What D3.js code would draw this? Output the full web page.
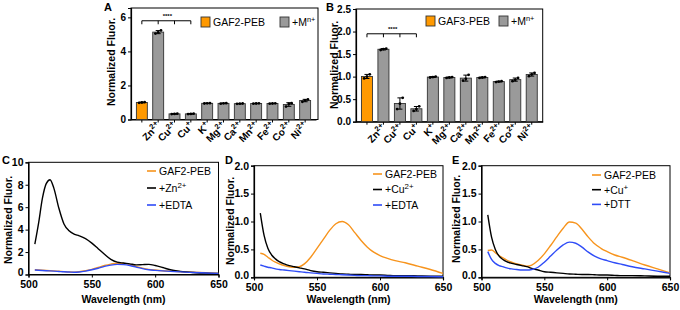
<!DOCTYPE html>
<html>
<head>
<meta charset="utf-8">
<script src="https://cdn.jsdelivr.net/npm/d3@7"></script>
<style>
  body { margin: 0; background: #fff; }
  svg { font-family: "Liberation Sans", Arial, sans-serif; }
  .tick text { font-weight: bold; }
</style>
</head>
<body>
<div id="chart"></div>
<script>
// ---- data ----
const metalNames = ['Zn', 'Cu', 'Cu', 'K', 'Mg', 'Ca', 'Mn', 'Fe', 'Co', 'Ni'];
const metalCharges = ['2+', '2+', '+', '+', '2+', '2+', '2+', '2+', '2+', '2+'];

// replicates per bar: control first, then metals in order above
const repsA = [
  [0.98, 1.0, 1.02], [5.05, 5.12, 5.23], [0.32, 0.33, 0.34], [0.32, 0.33, 0.34],
  [0.94, 0.95, 0.96], [0.93, 0.95, 0.96], [0.92, 0.93, 0.94], [0.93, 0.94, 0.95],
  [0.93, 0.94, 0.95], [0.76, 0.92, 0.96], [1.04, 1.12, 1.18]
];
const repsB = [
  [0.96, 1.0, 1.05], [1.59, 1.61, 1.62], [0.28, 0.40, 0.53], [0.24, 0.28, 0.34],
  [0.98, 0.99, 1.0], [0.97, 0.98, 0.99], [0.91, 0.95, 1.04], [0.97, 0.98, 0.99],
  [0.88, 0.89, 0.90], [0.90, 0.93, 0.97], [1.01, 1.05, 1.08]
];

const wl = [505, 508, 511, 514, 517, 520, 524, 528, 532, 536, 540, 545, 550, 555, 560,
            565, 570, 575, 580, 585, 590, 595, 600, 606, 612, 620, 630, 640, 650];

const cPeb  = [0.42, 0.40, 0.38, 0.36, 0.34, 0.32, 0.29, 0.26, 0.23, 0.21, 0.24, 0.33, 0.46, 0.62, 0.8,
               0.93, 1.0, 0.98, 0.88, 0.72, 0.57, 0.46, 0.4, 0.34, 0.3, 0.25, 0.2, 0.15, 0.1];
const cZn   = [2.7, 4.6, 6.8, 8.1, 8.45, 7.7, 5.9, 4.5, 3.9, 3.6, 3.45, 3.2, 2.8, 2.3, 1.8,
               1.35, 1.1, 1.02, 0.95, 0.86, 0.88, 0.9, 0.8, 0.62, 0.42, 0.28, 0.18, 0.12, 0.1];
const cEdta = [0.40, 0.38, 0.36, 0.34, 0.32, 0.30, 0.27, 0.24, 0.22, 0.2, 0.22, 0.3, 0.42, 0.56, 0.72,
               0.84, 0.9, 0.88, 0.8, 0.66, 0.52, 0.42, 0.37, 0.32, 0.28, 0.23, 0.18, 0.14, 0.1];

const dPeb  = [0.43, 0.41, 0.36, 0.31, 0.27, 0.24, 0.21, 0.19, 0.18, 0.19, 0.24, 0.36, 0.52, 0.68, 0.84,
               0.96, 1.0, 0.94, 0.8, 0.66, 0.54, 0.45, 0.39, 0.34, 0.3, 0.26, 0.2, 0.14, 0.07];
const dCu2  = [1.15, 0.75, 0.52, 0.4, 0.33, 0.28, 0.24, 0.21, 0.19, 0.17, 0.15, 0.12, 0.1, 0.09, 0.08,
               0.07, 0.06, 0.055, 0.05, 0.05, 0.045, 0.04, 0.04, 0.035, 0.03, 0.03, 0.025, 0.02, 0.02];
const dEdta = [0.22, 0.2, 0.18, 0.17, 0.15, 0.14, 0.13, 0.12, 0.11, 0.1, 0.09, 0.08, 0.07, 0.06, 0.055,
               0.05, 0.045, 0.04, 0.035, 0.03, 0.03, 0.025, 0.025, 0.02, 0.02, 0.02, 0.015, 0.015, 0.01];

const ePeb  = [0.48, 0.49, 0.44, 0.39, 0.35, 0.31, 0.27, 0.24, 0.22, 0.2, 0.22, 0.3, 0.42, 0.57, 0.73,
               0.88, 0.99, 0.97, 0.86, 0.72, 0.6, 0.52, 0.46, 0.4, 0.36, 0.3, 0.22, 0.15, 0.08];
const eCu1  = [1.12, 0.72, 0.5, 0.38, 0.32, 0.28, 0.25, 0.23, 0.21, 0.19, 0.16, 0.13, 0.1, 0.09, 0.08,
               0.07, 0.06, 0.055, 0.05, 0.05, 0.045, 0.04, 0.04, 0.035, 0.03, 0.03, 0.025, 0.02, 0.02];
const eDtt  = [0.46, 0.32, 0.25, 0.21, 0.19, 0.17, 0.15, 0.14, 0.13, 0.13, 0.14, 0.18, 0.27, 0.38, 0.49,
               0.58, 0.63, 0.61, 0.54, 0.45, 0.38, 0.33, 0.3, 0.26, 0.23, 0.19, 0.15, 0.11, 0.07];

const ORANGE = '#ff9900', LINE_ORANGE = '#f7941d', GREY = '#9a9a9a', BLUE = '#2f4cf7';

const svg = d3.select('#chart').append('svg').attr('width', 680).attr('height', 310);

function supText(sel, base, sup) {
  sel.append('tspan').text(base);
  sel.append('tspan').attr('baseline-shift', 'super').attr('font-size', '0.75em').text(sup);
}

function panelLetter(x, y, t) {
  svg.append('text').attr('x', x).attr('y', y).attr('font-size', 11)
    .attr('font-weight', 'bold').text(t);
}

function yTitle(x, y) {
  svg.append('text').attr('transform', `translate(${x},${y}) rotate(-90)`)
    .attr('text-anchor', 'middle').attr('font-size', 10.5).attr('font-weight', 'bold')
    .text('Normalized Fluor.');
}

function barPanel(o) {
  const g = svg.append('g');
  const stats = o.reps.map(r => ({ mean: d3.mean(r), sd: d3.deviation(r), reps: r }));
  const x = d3.scaleBand().domain(d3.range(o.reps.length))
    .range([o.left, o.right]).paddingInner(0.33).paddingOuter(0.33);
  const y = d3.scaleLinear().domain([0, o.yMax]).range([o.bottom, o.top]);

  g.append('rect').attr('x', o.left).attr('y', o.top)
    .attr('width', o.frameRight - o.left).attr('height', o.bottom - o.top)
    .attr('fill', 'none').attr('stroke', '#000').attr('stroke-width', 1);

  const ya = g.append('g').attr('transform', `translate(${o.left},0)`)
    .call(d3.axisLeft(y).tickValues(o.yTicks).tickFormat(d3.format(o.fmt)).tickSize(3).tickPadding(2));
  ya.select('.domain').attr('stroke-width', 1.2);
  ya.selectAll('.tick text').attr('font-size', 10).attr('font-family', '"Liberation Sans", Arial, sans-serif');

  const xa = g.append('g').attr('transform', `translate(0,${o.bottom})`)
    .call(d3.axisBottom(x).tickFormat('').tickSize(3).tickSizeOuter(0));
  xa.select('.domain').attr('stroke-width', 1.2);

  // bars
  g.selectAll('rect.bar').data(stats).join('rect').attr('class', 'bar')
    .attr('x', (d, i) => x(i)).attr('width', x.bandwidth())
    .attr('y', d => y(d.mean)).attr('height', d => o.bottom - y(d.mean))
    .attr('fill', (d, i) => i === 0 ? ORANGE : GREY)
    .attr('stroke', '#333').attr('stroke-width', 0.9);

  // error bars and replicate dots
  const cx = i => x(i) + x.bandwidth() / 2;
  stats.forEach((d, i) => {
    const lo = y(d.mean - d.sd), hi = y(d.mean + d.sd);
    g.append('line').attr('x1', cx(i)).attr('x2', cx(i)).attr('y1', lo).attr('y2', hi)
      .attr('stroke', '#000').attr('stroke-width', 1);
    [lo, hi].forEach(v => g.append('line').attr('x1', cx(i) - 2.5).attr('x2', cx(i) + 2.5)
      .attr('y1', v).attr('y2', v).attr('stroke', '#000').attr('stroke-width', 1));
    d.reps.forEach((r, k) => g.append('circle').attr('cx', cx(i) + (k - 1) * 2.8)
      .attr('cy', y(r)).attr('r', 1.4).attr('fill', '#000'));
  });

  // rotated metal labels
  metalNames.forEach((m, k) => {
    const t = g.append('text')
      .attr('transform', `translate(${cx(k + 1) + 3},${o.bottom + 7}) rotate(-45)`)
      .attr('text-anchor', 'end').attr('font-size', 10).attr('font-weight', 'bold');
    supText(t, m, metalCharges[k]);
  });

  // significance bracket over first four bars
  const by = y(o.bracketVal);
  g.append('line').attr('x1', cx(0)).attr('x2', cx(3)).attr('y1', by).attr('y2', by)
    .attr('stroke', '#000').attr('stroke-width', 1);
  [0, 1, 2, 3].forEach(i => g.append('line').attr('x1', cx(i)).attr('x2', cx(i))
    .attr('y1', by).attr('y2', by + 3.5).attr('stroke', '#000').attr('stroke-width', 1));
  g.append('text').attr('x', (cx(0) + cx(3)) / 2 + 1).attr('y', by - 2.5)
    .attr('text-anchor', 'middle').attr('font-size', 6).attr('font-weight', 'bold').text('****');

  // legend
  g.append('rect').attr('x', o.legX).attr('y', o.legY).attr('width', 9).attr('height', 10)
    .attr('fill', ORANGE).attr('stroke', '#333').attr('stroke-width', 0.9);
  g.append('text').attr('x', o.legX + 12).attr('y', o.legY + 9).attr('font-size', 10.5).text(o.ctrl);
  g.append('rect').attr('x', o.legX2).attr('y', o.legY).attr('width', 9).attr('height', 10)
    .attr('fill', GREY).attr('stroke', '#333').attr('stroke-width', 0.9);
  const lt = g.append('text').attr('x', o.legX2 + 12).attr('y', o.legY + 9).attr('font-size', 10.5);
  lt.append('tspan').text('+M');
  lt.append('tspan').attr('baseline-shift', 'super').attr('font-size', '0.7em').text('n+');
}

function linePanel(o) {
  const g = svg.append('g');
  const x = d3.scaleLinear().domain([500, 650]).range([o.left, o.right]);
  const y = d3.scaleLinear().domain([0, o.yMax]).range([o.bottom, o.top]);

  g.append('rect').attr('x', o.left).attr('y', o.top)
    .attr('width', o.right - o.left).attr('height', o.bottom - o.top)
    .attr('fill', 'none').attr('stroke', '#000').attr('stroke-width', 1);

  const ya = g.append('g').attr('transform', `translate(${o.left},0)`)
    .call(d3.axisLeft(y).tickValues(o.yTicks).tickFormat(d3.format(o.fmt)).tickSize(3).tickPadding(2));
  ya.select('.domain').attr('stroke-width', 1.2);
  ya.selectAll('.tick text').attr('font-size', 10.5).attr('font-family', '"Liberation Sans", Arial, sans-serif');
  // lift the bottom label a bit so it clears the x tick labels
  ya.selectAll('.tick').filter(d => d === 0).select('text').attr('dy', '0.1em');

  const xa = g.append('g').attr('transform', `translate(0,${o.bottom})`)
    .call(d3.axisBottom(x).tickValues([500, 550, 600, 650]).tickSize(3).tickPadding(3));
  xa.select('.domain').attr('stroke-width', 1.2);
  xa.selectAll('.tick text').attr('font-size', 10.5).attr('font-family', '"Liberation Sans", Arial, sans-serif');

  g.append('text').attr('x', (o.left + o.right) / 2).attr('y', 303)
    .attr('text-anchor', 'middle').attr('font-size', 10.5).attr('font-weight', 'bold')
    .text('Wavelength (nm)');

  const line = d3.line().x((d, i) => x(wl[i])).y(d => y(d)).curve(d3.curveMonotoneX);
  o.series.forEach(s => {
    g.append('path').datum(s.values).attr('d', line).attr('fill', 'none')
      .attr('stroke', s.color).attr('stroke-width', 1.4);
  });

  o.series.forEach((s, i) => {
    const ly = o.legY + i * o.legStep;
    g.append('line').attr('x1', o.legX).attr('x2', o.legX + 9).attr('y1', ly).attr('y2', ly)
      .attr('stroke', s.color).attr('stroke-width', 1.6);
    const t = g.append('text').attr('x', o.legX + 12).attr('y', ly + 3.8).attr('font-size', 10.5);
    supText(t, s.name, s.sup || '');
  });
}

barPanel({ reps: repsA, left: 131, right: 316, frameRight: 318, top: 8, bottom: 119.5,
  yMax: 6.55, yTicks: [0, 2, 4, 6], fmt: 'd', bracketVal: 5.8, ctrl: 'GAF2-PEB',
  legX: 201, legY: 17, legX2: 280 });
barPanel({ reps: repsB, left: 356, right: 542.7, frameRight: 542.7, top: 9, bottom: 121.7,
  yMax: 2.5, yTicks: [0, 0.5, 1, 1.5, 2, 2.5], fmt: '.1f', bracketVal: 1.95, ctrl: 'GAF3-PEB',
  legX: 426, legY: 16, legX2: 499 });

panelLetter(104, 11, 'A');
panelLetter(326, 11, 'B');
yTitle(115, 62);
yTitle(338, 65);

linePanel({ left: 28.5, right: 218.5, top: 162.3, bottom: 274.5, yMax: 10,
  yTicks: [0, 2, 4, 6, 8, 10], fmt: 'd', legX: 147, legY: 171, legStep: 17,
  series: [
    { name: 'GAF2-PEB', values: cPeb, color: LINE_ORANGE },
    { name: '+Zn', sup: '2+', values: cZn, color: '#000' },
    { name: '+EDTA', values: cEdta, color: BLUE }
  ] });
linePanel({ left: 254, right: 443, top: 165.7, bottom: 277.3, yMax: 2,
  yTicks: [0, 0.5, 1, 1.5, 2], fmt: '.1f', legX: 373, legY: 174, legStep: 15.5,
  series: [
    { name: 'GAF2-PEB', values: dPeb, color: LINE_ORANGE },
    { name: '+Cu', sup: '2+', values: dCu2, color: '#000' },
    { name: '+EDTA', values: dEdta, color: BLUE }
  ] });
linePanel({ left: 481.5, right: 670, top: 165.7, bottom: 277.3, yMax: 2,
  yTicks: [0, 0.5, 1, 1.5, 2], fmt: '.1f', legX: 592, legY: 175, legStep: 14.7,
  series: [
    { name: 'GAF2-PEB', values: ePeb, color: LINE_ORANGE },
    { name: '+Cu', sup: '+', values: eCu1, color: '#000' },
    { name: '+DTT', values: eDtt, color: BLUE }
  ] });

panelLetter(2, 164, 'C');
panelLetter(225, 164, 'D');
panelLetter(452, 164, 'E');
yTitle(12, 220);
yTitle(234, 221);
yTitle(460, 219);
</script>
</body>
</html>
